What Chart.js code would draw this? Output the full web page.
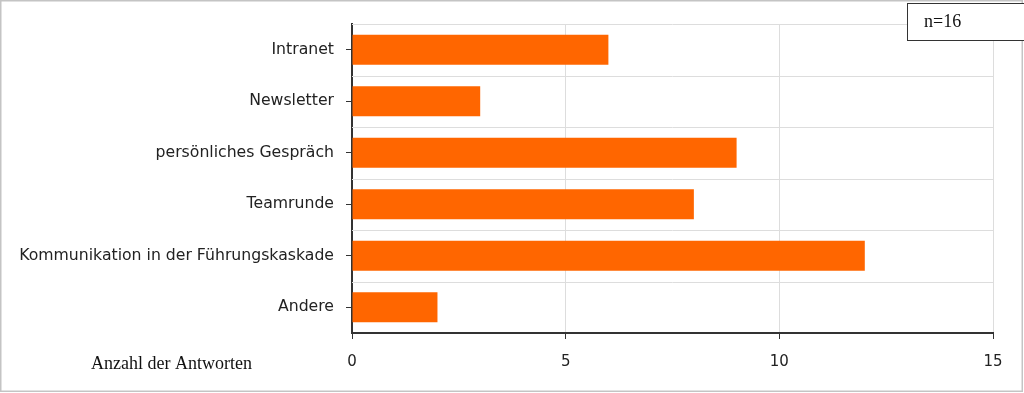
<!DOCTYPE html>
<html>
<head>
<meta charset="utf-8">
<script src="https://cdn.jsdelivr.net/npm/chart.js@4/dist/chart.umd.min.js"></script>
<style>
  html, body { margin: 0; padding: 0; background: #fff; }
  canvas { display: block; }
</style>
</head>
<body>
<canvas id="chart" width="1024" height="393"></canvas>
<script>
const categories = [
  "Intranet",
  "Newsletter",
  "persönliches Gespräch",
  "Teamrunde",
  "Kommunikation in der Führungskaskade",
  "Andere",
];
const answers = [6, 3, 9, 8, 12, 2];
const xTicks = [0, 5, 10, 15];

// extra drawing: row separators, frame, n box, axis caption
const decorations = {
  id: "decorations",
  beforeDatasetsDraw(chart) {
    const ctx = chart.ctx;
    const y = chart.scales.y;
    const area = chart.chartArea;
    const step = y.getPixelForValue(1) - y.getPixelForValue(0);
    ctx.save();
    ctx.strokeStyle = "#dddddd";
    ctx.lineWidth = 1;
    for (let i = 0; i < categories.length; i++) {
      const py = Math.round(y.getPixelForValue(i) - step / 2) + 0.5;
      ctx.beginPath();
      ctx.moveTo(area.left, py);
      ctx.lineTo(area.right, py);
      ctx.stroke();
    }
    ctx.restore();
  },
  afterDraw(chart) {
    const ctx = chart.ctx;
    ctx.save();
    ctx.strokeStyle = "#c4c4c4";
    ctx.lineWidth = 1.5;
    ctx.strokeRect(0.75, 0.75, 1021.5, 390.5);

    ctx.fillStyle = "#ffffff";
    ctx.fillRect(907, 3, 120, 37);
    ctx.strokeStyle = "#333333";
    ctx.lineWidth = 1;
    ctx.strokeRect(907.5, 3.5, 120, 37);

    ctx.fillStyle = "#111111";
    ctx.font = "18px 'Liberation Serif', serif";
    ctx.textBaseline = "middle";
    ctx.textAlign = "left";
    ctx.fillText("n=16", 924, 22);
    ctx.fillText("Anzahl der Antworten", 91, 364);
    ctx.restore();
  },
};

new Chart(document.getElementById("chart"), {
  type: "bar",
  data: {
    labels: categories,
    datasets: [
      {
        data: answers,
        backgroundColor: "#ff6600",
        borderWidth: 0,
        barPercentage: 0.58,
        categoryPercentage: 1,
      },
    ],
  },
  options: {
    indexAxis: "y",
    responsive: false,
    animation: false,
    layout: { padding: { top: 24, right: 31, left: 0, bottom: 0 } },
    plugins: {
      legend: { display: false },
      tooltip: { enabled: false },
    },
    scales: {
      x: {
        min: 0,
        max: 15,
        afterBuildTicks: (scale) => {
          scale.ticks = xTicks.map((v) => ({ value: v }));
        },
        afterFit: (scale) => {
          scale.height = 60;
        },
        border: { display: true, color: "#333333", width: 2 },
        grid: {
          color: (c) => (c.index === 0 ? "rgba(0,0,0,0)" : "#dddddd"),
          tickColor: "#333333",
          tickLength: 6,
          lineWidth: 1,
        },
        ticks: {
          color: "#222222",
          font: { family: "DejaVu Sans", size: 15 },
          padding: 14,
          maxRotation: 0,
        },
      },
      y: {
        afterFit: (scale) => {
          scale.width = 352;
        },
        border: { display: true, color: "#333333", width: 2 },
        grid: {
          offset: false,
          color: "rgba(0,0,0,0)",
          tickColor: "#333333",
          tickLength: 6,
        },
        ticks: {
          color: "#222222",
          font: { family: "DejaVu Sans", size: 15.7 },
          padding: 12,
        },
      },
    },
  },
  plugins: [decorations],
});
</script>
</body>
</html>
